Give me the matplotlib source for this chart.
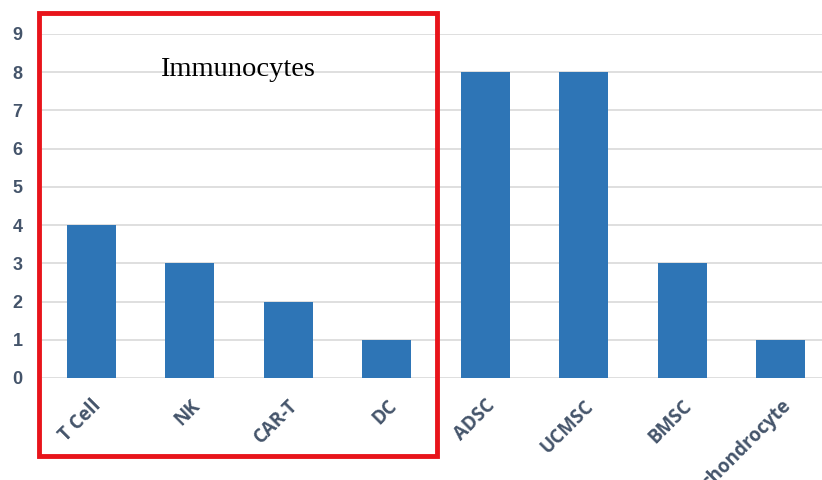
import matplotlib.pyplot as plt
from matplotlib.patches import Rectangle

categories = ['T Cell', 'NK', 'CAR-T', 'DC', 'ADSC', 'UCMSC', 'BMSC', 'chondrocyte']
counts = [4, 3, 2, 1, 8, 8, 3, 1]
yticks = list(range(10))

W, H = 822, 480
fig = plt.figure(figsize=(W/100, H/100), dpi=100)
ax = fig.add_axes([42/W, 102/H, (822-42)/W, (446-102)/H])

x = range(len(categories))
ax.bar(x, counts, width=0.5, color='#2E75B6', zorder=3)

ax.set_xlim(-0.5, 7.42)
ax.set_ylim(0, 9)
ax.set_yticks(yticks)
ax.yaxis.grid(True, color='#D9D9D9', linewidth=1.2, zorder=0)
for s in ax.spines.values():
    s.set_visible(False)
ax.tick_params(length=0)

tick_col = '#44546A'
ax.set_yticklabels([str(t) for t in yticks], fontsize=13, fontweight='bold',
                   color=tick_col, family='Liberation Sans')
ax.tick_params(axis='y', pad=14)
ax.set_xticks(list(x))
ax.set_xticklabels(categories, rotation=45, ha='right', va='top', rotation_mode='anchor',
                   fontsize=13.5, fontweight='bold', color=tick_col, family='Open Sans')
ax.tick_params(axis='x', pad=13)

# red box around the immune cell group
fig.patches.append(Rectangle((38.5/W, (480-456)/H), (437-38.5)/W, (456-13)/H,
                             transform=fig.transFigure, fill=False,
                             edgecolor='#E8141B', linewidth=3.5))
fig.text(237/W, 1 - 70/H, 'Immunocytes', family='Liberation Serif', fontsize=20.5,
         ha='center', va='center', color='black')

fig.savefig('out.png', dpi=100)
